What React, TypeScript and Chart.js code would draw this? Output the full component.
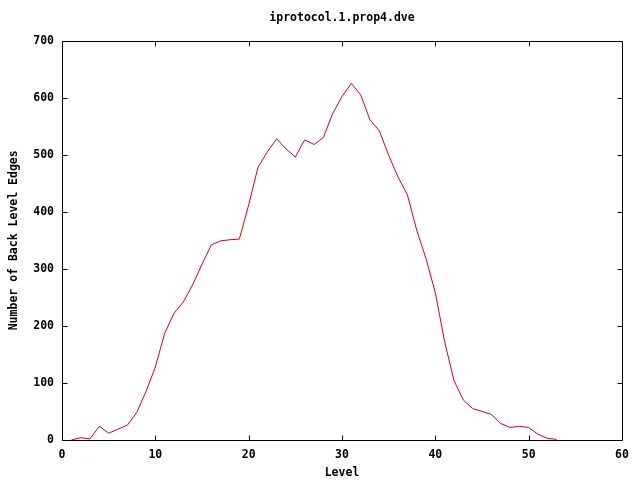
import React, { useEffect, useRef } from "react";
import { Chart, registerables } from "chart.js";

Chart.register(...registerables);

const chartTitle = "iprotocol.1.prop4.dve";
const xTitle = "Level";
const yTitle = "Number of Back Level Edges";

const levels = [
  1, 2, 3, 4, 5, 6, 7, 8, 9, 10, 11, 12, 13, 14, 15, 16, 17, 18, 19, 20,
  21, 22, 23, 24, 25, 26, 27, 28, 29, 30, 31, 32, 33, 34, 35, 36, 37, 38, 39, 40,
  41, 42, 43, 44, 45, 46, 47, 48, 49, 50, 51, 52, 53,
];
const edges = [
  0, 4, 2, 24, 12, 19, 26, 48, 85, 128, 187, 222, 242, 272, 308, 342, 349, 351, 352, 412,
  478, 505, 528, 510, 496, 526, 518, 530, 572, 602, 625, 605, 561, 542, 499, 461, 430, 368, 318, 258,
  172, 104, 70, 55, 50, 45, 29, 22, 24, 22, 10, 3, 1,
];

const FONT_FAMILY = "'DejaVu Sans Mono', 'Liberation Mono', monospace";
const TICK_LEN = 5;

const frameAndTicks = {
  id: "frameAndTicks",
  afterDraw(chart: any) {
    const { ctx, chartArea } = chart;
    const xs = chart.scales.x;
    const ys = chart.scales.y;
    const l = Math.round(chartArea.left) + 0.5;
    const r = Math.round(chartArea.right) + 0.5;
    const t = Math.round(chartArea.top) + 0.5;
    const b = Math.round(chartArea.bottom) + 0.5;
    ctx.save();
    ctx.strokeStyle = "#000";
    ctx.lineWidth = 1;
    ctx.beginPath();
    ctx.rect(l, t, r - l, b - t);
    for (const tk of xs.ticks) {
      const px = Math.round(xs.getPixelForValue(tk.value)) + 0.5;
      ctx.moveTo(px, b);
      ctx.lineTo(px, b - TICK_LEN);
      ctx.moveTo(px, t);
      ctx.lineTo(px, t + TICK_LEN);
    }
    for (const tk of ys.ticks) {
      const py = Math.round(ys.getPixelForValue(tk.value)) + 0.5;
      ctx.moveTo(l, py);
      ctx.lineTo(l + TICK_LEN, py);
      ctx.moveTo(r, py);
      ctx.lineTo(r - TICK_LEN, py);
    }
    ctx.stroke();
    ctx.restore();
  },
};

export default function App() {
  const canvasRef = useRef<HTMLCanvasElement | null>(null);

  useEffect(() => {
    if (!canvasRef.current) return;
    const font = { family: FONT_FAMILY, size: 11.5, weight: "bold" as const, lineHeight: 1.2 };
    const chart = new Chart(canvasRef.current, {
      type: "line",
      data: {
        datasets: [
          {
            data: levels.map((lv, i) => ({ x: lv, y: edges[i] })),
            borderColor: "#e00000",
            borderWidth: 1,
            pointRadius: 0,
            tension: 0,
            fill: false,
          },
        ],
      },
      plugins: [frameAndTicks],
      options: {
        animation: false,
        responsive: false,
        maintainAspectRatio: false,
        layout: { padding: { left: 0, right: 18, top: 0, bottom: 0 } },
        plugins: {
          legend: { display: false },
          tooltip: { enabled: false },
          title: {
            display: true,
            text: chartTitle,
            color: "#000",
            font,
            fullSize: false,
            padding: { top: 11, bottom: 15.8 },
          },
        },
        scales: {
          x: {
            type: "linear",
            min: 0,
            max: 60,
            border: { display: false },
            grid: { display: false },
            ticks: { stepSize: 10, color: "#000", font, padding: 0, maxRotation: 0 },
            title: { display: true, text: xTitle, color: "#000", font, padding: { top: 0, bottom: 0 } },
            afterFit: (s: any) => {
              s.height = 40;
            },
          },
          y: {
            type: "linear",
            min: 0,
            max: 700,
            border: { display: false },
            grid: { display: false },
            ticks: { stepSize: 100, color: "#000", font, padding: 0 },
            title: { display: true, text: yTitle, color: "#000", font, padding: { top: 7.5, bottom: 0 } },
            afterFit: (s: any) => {
              s.width = 62;
            },
          },
        },
      },
    });
    return () => chart.destroy();
  }, []);

  return (
    <div style={{ position: "fixed", left: 0, top: 0, width: 640, height: 480, background: "#fff" }}>
      <canvas ref={canvasRef} width={640} height={480} style={{ display: "block" }} />
    </div>
  );
}
